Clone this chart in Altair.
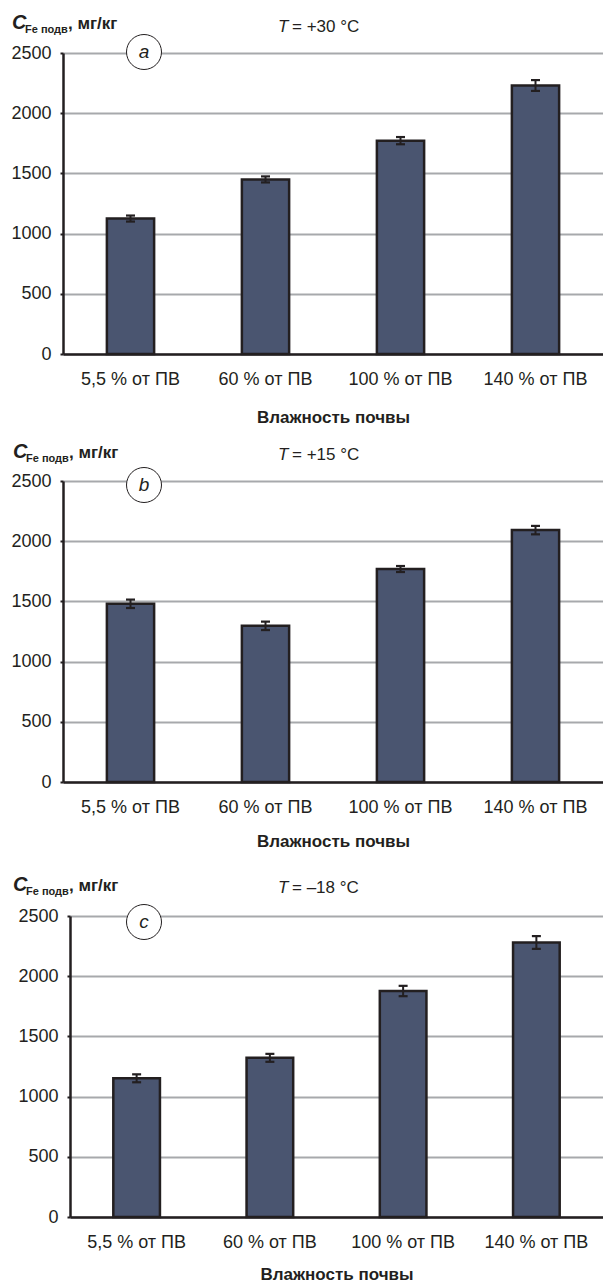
import altair as alt
import pandas as pd

categories = ["5,5 % от ПВ", "60 % от ПВ", "100 % от ПВ", "140 % от ПВ"]
y_ticks = [0, 250, 500, 750, 1000, 1250, 1500, 1750, 2000, 2250, 2500]

values_a = [1125, 1450, 1772, 2230]
errors_a = [25, 25, 30, 45]
values_b = [1480, 1297, 1769, 2092]
errors_b = [35, 35, 25, 35]
values_c = [1152, 1322, 1877, 2280]
errors_c = [33, 33, 43, 53]

panel_letters = ["a", "b", "c"]
temp_texts = ["= +30 °C", "= +15 °C", "= \u201318 °C"]
x_title = "Влажность почвы"

DARK = "#231f20"
BAR = "#4a5570"
GRID = "#a7a9ac"
FONT = "Liberation Sans"
H = 301


def make_panel(values, errors, letter, temp, width, cx, cy, tx, ty, temp_x, temp_y,
               title_pad, anchor=False):
    df = pd.DataFrame({
        "cat": categories,
        "val": values,
        "lo": [v - e for v, e in zip(values, errors)],
        "hi": [v + e for v, e in zip(values, errors)],
    })
    xscale = alt.Scale(paddingInner=0.65, paddingOuter=0.325)
    yscale = alt.Scale(domain=[0, 2500], nice=False)
    base = alt.Chart(df)
    bars = base.mark_bar(fill=BAR, stroke=DARK, strokeWidth=2.5).encode(
        x=alt.X("cat:N", sort=categories, scale=xscale, title=x_title,
                axis=alt.Axis(labelAngle=0, labelFontSize=18, labelColor=DARK,
                              labelPadding=16, ticks=False, tickSize=0,
                              domainColor=DARK, domainWidth=2.5,
                              titleFontSize=17, titleFontWeight="bold",
                              titleColor=DARK, titlePadding=title_pad, grid=False)),
        y=alt.Y("val:Q", scale=yscale, title=None,
                axis=alt.Axis(values=y_ticks, format="d",
                              labelExpr="datum.value % 500 === 0 ? datum.label : ''",
                              labelFontSize=18, labelColor=DARK, labelPadding=9,
                              tickSize=3, tickColor=DARK, tickWidth=2,
                              domainColor=DARK, domainWidth=2.5,
                              grid=True, gridColor=GRID, gridWidth=2,
                              gridOpacity={"condition": {"test": "datum.value % 500 === 0", "value": 1}, "value": 0})),
    )
    xenc = alt.X("cat:N", sort=categories, scale=xscale, title=x_title)
    rule = base.mark_rule(color=DARK, strokeWidth=2).encode(
        x=xenc, y=alt.Y("lo:Q", scale=yscale, title=None), y2="hi:Q")
    cap_lo = base.mark_tick(color=DARK, size=9, thickness=2.2, opacity=1).encode(
        x=xenc, y=alt.Y("lo:Q", scale=yscale, title=None))
    cap_hi = base.mark_tick(color=DARK, size=9, thickness=2.2, opacity=1).encode(
        x=xenc, y=alt.Y("hi:Q", scale=yscale, title=None))

    one = pd.DataFrame({"letter": [letter], "temp": [temp]})
    ann = alt.Chart(one)
    circle = ann.mark_point(shape="circle", filled=True, fill="white", stroke=DARK,
                            strokeWidth=1, size=1225, opacity=1).encode(
        x=alt.value(cx), y=alt.value(cy))
    letter_t = ann.mark_text(font=FONT, fontSize=19, fontStyle="italic", color=DARK,
                             align="center", baseline="middle").encode(
        x=alt.value(cx), y=alt.value(cy), text="letter:N")
    t_it = ann.mark_text(font=FONT, fontSize=17, fontStyle="italic", color=DARK,
                         align="left", baseline="middle").encode(
        x=alt.value(temp_x), y=alt.value(temp_y), text=alt.value("T"))
    t_rest = ann.mark_text(font=FONT, fontSize=17, color=DARK,
                           align="left", baseline="middle").encode(
        x=alt.value(temp_x + 14), y=alt.value(temp_y), text="temp:N")
    c_main = ann.mark_text(font=FONT, fontSize=20, fontStyle="italic", fontWeight="bold",
                           color=DARK, align="left", baseline="alphabetic").encode(
        x=alt.value(tx), y=alt.value(ty), text=alt.value("C"))
    c_sub = ann.mark_text(font=FONT, fontSize=11, fontWeight="bold",
                          color=DARK, align="left", baseline="alphabetic").encode(
        x=alt.value(tx + 13), y=alt.value(ty + 4), text=alt.value("Fe подв"))
    c_unit = ann.mark_text(font=FONT, fontSize=17, fontWeight="bold",
                           color=DARK, align="left", baseline="alphabetic").encode(
        x=alt.value(tx + 56), y=alt.value(ty), text=alt.value(", мг/кг"))
    layers = [bars, rule, cap_lo, cap_hi, circle, letter_t, t_it, t_rest, c_main, c_sub, c_unit]
    if anchor:
        anc = ann.mark_rule(opacity=0, strokeWidth=0.001).encode(
            x=alt.value(-63), x2=alt.value(-63), y=alt.value(-53), y2=alt.value(-53))
        layers.append(anc)
    return alt.layer(*layers).properties(width=width, height=H)


pa = make_panel(values_a, errors_a, "a", temp_texts[0], 540, 81, -1, -51, -24, 215, -26, 21, anchor=True)
pb = make_panel(values_b, errors_b, "b", temp_texts[1], 540, 81, 4, -50, -23, 215, -26, 17)
pc = make_panel(values_c, errors_c, "c", temp_texts[2], 533, 74, 6, -57, -25, 208, -28, 15)

h_spacer = alt.Chart(alt.Data(values=[{}])).mark_point(opacity=0).encode(
    x=alt.value(0), y=alt.value(0)).properties(width=7, height=H)
v_spacer = alt.Chart(alt.Data(values=[{}])).mark_point(opacity=0).encode(
    x=alt.value(0), y=alt.value(0)).properties(width=7, height=7)

row_c = alt.hconcat(h_spacer, pc, spacing=0, bounds="flush")
block_c = alt.vconcat(v_spacer, row_c, spacing=0, bounds="flush")
chart = alt.vconcat(pa, pb, block_c, spacing=127, bounds="flush").properties(
    padding={"left": 0, "top": 0, "right": 0, "bottom": 0},
    background="white",
).configure(font=FONT).configure_view(stroke=None)

chart.save("out.html", embed_options={"renderer": "svg", "actions": False})
